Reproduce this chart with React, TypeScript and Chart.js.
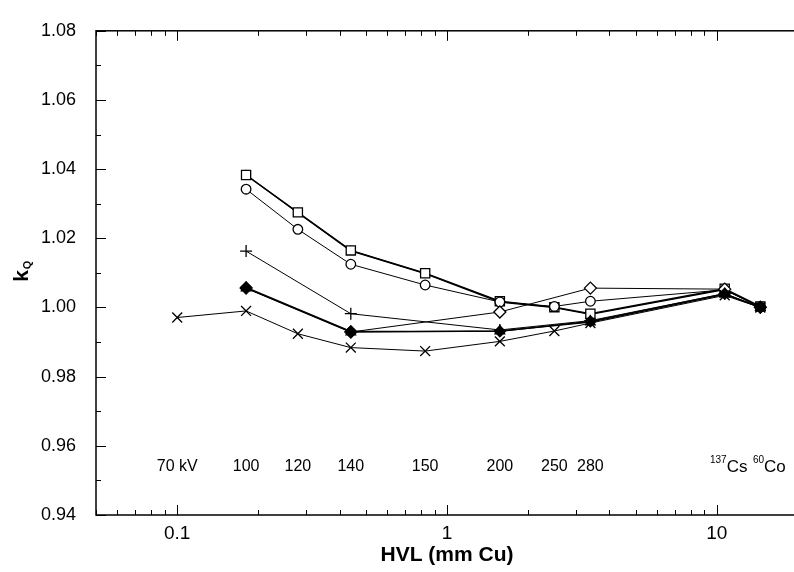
import React, { useEffect, useRef } from "react";
import { Chart, registerables } from "chart.js";
Chart.register(...registerables);

// HVL (mm Cu) of each beam quality
const hvl = [0.1, 0.18, 0.28, 0.44, 0.83, 1.57, 2.5, 3.4, 10.7, 14.5];
const beamLabels = ["70 kV", "100", "120", "140", "150", "200", "250", "280"];
const isotopeMass = ["137", "60"];
const isotopeName = ["Cs", "Co"];

// kQ values per chamber (null = not measured)
const squares = [null, 1.0383, 1.0275, 1.0165, 1.0099, 1.0018, 1.0001, 0.9982, 1.0054, 1.0003];
const triangles = [null, 1.0383, 1.0274, 1.0164, 1.0098, 1.0016, 1.0, 0.998, 1.0052, 1.0001];
const circles = [null, 1.0342, 1.0226, 1.0125, 1.0065, 1.0016, 1.0003, 1.0018, 1.0051, 1.0002];
const pluses = [null, 1.0163, null, 0.9982, null, 0.9935, null, 0.9962, 1.004, 1.0001];
const openDiamonds = [null, 1.0056, null, 0.9929, null, 0.9987, null, 1.0056, 1.0053, 1.0001];
const filledTriangles = [null, 1.0056, null, 0.9929, null, 0.9932, null, 0.9958, 1.0038, 1.0];
const filledDiamonds = [null, 1.0058, null, 0.9931, null, 0.9931, null, 0.996, 1.004, 1.0];
const crosses = [0.9971, 0.999, 0.9924, 0.9884, 0.9874, 0.9902, 0.9932, 0.9955, 1.0035, 1.0];

const xMajor = [0.1, 1, 10];
const yTicks = [0.94, 0.96, 0.98, 1.0, 1.02, 1.04, 1.06, 1.08];

const FONT = "'Liberation Sans', Arial, Helvetica, sans-serif";

export default function App() {
  const ref = useRef<HTMLCanvasElement>(null);
  useEffect(() => {
    if (!ref.current) return;
    const mk = (vals: (number | null)[], style: any, radius: number, filled: boolean, width = 1) => ({
      data: hvl
        .map((x, i) => (vals[i] == null ? null : { x, y: vals[i] as number }))
        .filter((p) => p !== null),
      showLine: true,
      borderColor: "#000",
      borderWidth: width,
      pointStyle: style,
      pointRadius: radius,
      pointBackgroundColor: filled ? "#000" : "#fff",
      pointBorderColor: "#000",
      pointBorderWidth: 1.3,
    });

    const decor = {
      id: "decor",
      afterDraw(chart: any) {
        const { ctx, chartArea: a, scales } = chart;
        const xs = scales.x;
        const ys = scales.y;
        ctx.save();
        ctx.strokeStyle = "#000";
        ctx.lineWidth = 1.5;
        ctx.strokeRect(a.left, a.top, a.right - a.left, a.bottom - a.top);
        ctx.lineWidth = 1;
        // x ticks (inside, bottom and top)
        const xMinor: number[] = [];
        for (let d = -2; d <= 1; d++) {
          for (let m = 1; m <= 9; m++) {
            const v = m * Math.pow(10, d);
            if (v >= 0.05 && v <= 20) xMinor.push(v);
          }
        }
        ctx.beginPath();
        xMinor.forEach((v) => {
          const px = Math.round(xs.getPixelForValue(v)) + 0.5;
          const len = xMajor.some((m) => Math.abs(m - v) < 1e-9) ? 10 : 5;
          ctx.moveTo(px, a.bottom);
          ctx.lineTo(px, a.bottom - len);
          ctx.moveTo(px, a.top);
          ctx.lineTo(px, a.top + len);
        });
        // y ticks (inside, left)
        for (let k = 0; k <= 14; k++) {
          const v = 0.94 + k * 0.01;
          const py = Math.round(ys.getPixelForValue(v)) + 0.5;
          const len = k % 2 === 0 ? 10 : 5;
          ctx.moveTo(a.left, py);
          ctx.lineTo(a.left + len, py);
        }
        ctx.stroke();

        // beam quality labels
        ctx.fillStyle = "#000";
        ctx.textBaseline = "middle";
        ctx.textAlign = "center";
        const ly = ys.getPixelForValue(0.954);
        ctx.font = `16px ${FONT}`;
        beamLabels.forEach((t, i) => {
          ctx.fillText(t, xs.getPixelForValue(hvl[i]), ly);
        });
        isotopeName.forEach((nm, j) => {
          const cx = xs.getPixelForValue(hvl[8 + j]);
          ctx.font = `17px ${FONT}`;
          const wn = ctx.measureText(nm).width;
          ctx.font = `10px ${FONT}`;
          const wm = ctx.measureText(isotopeMass[j]).width;
          const x0 = cx - (wn + wm) / 2 + 4 + j * 5;
          ctx.textAlign = "left";
          ctx.fillText(isotopeMass[j], x0, ly - 6);
          ctx.font = `17px ${FONT}`;
          ctx.fillText(nm, x0 + wm, ly + 1);
          ctx.textAlign = "center";
        });

        // x title
        ctx.font = `bold 21px ${FONT}`;
        ctx.fillText("HVL (mm Cu)", (a.left + a.right - 12) / 2 + 6, 555);

        // y title k_Q
        ctx.translate(22, 272);
        ctx.rotate(-Math.PI / 2);
        ctx.textAlign = "left";
        ctx.font = `bold 21px ${FONT}`;
        const wk = ctx.measureText("k").width;
        ctx.fillText("k", -wk / 2 - 4, 0);
        ctx.font = `bold 11px ${FONT}`;
        ctx.fillText("Q", wk / 2 - 3, 6);
        ctx.restore();
      },
    };

    const chart = new Chart(ref.current, {
      type: "scatter",
      data: {
        datasets: [
          mk(crosses, "crossRot", 7, false),
          mk(pluses, "cross", 6, false),
          mk(filledDiamonds, "rectRot", 5.5, true, 1.3),
          mk(filledTriangles, "triangle", 5.5, true, 1.3),
          mk(openDiamonds, "rectRot", 6, false),
          mk(circles, "circle", 4.8, false),
          mk(squares, "rect", 6.5, false, 1.4),
          mk(triangles, "triangle", 4.5, false, 1.4),
        ] as any,
      },
      plugins: [decor],
      options: {
        animation: false,
        responsive: true,
        maintainAspectRatio: false,
        layout: { padding: { top: 18, right: 12, left: 0, bottom: 0 } },
        plugins: { legend: { display: false }, tooltip: { enabled: false } },
        scales: {
          x: {
            type: "logarithmic",
            min: 0.05,
            max: 20,
            grid: { display: false, drawTicks: false },
            border: { display: false },
            afterBuildTicks: (s: any) => {
              s.ticks = xMajor.map((v) => ({ value: v }));
            },
            afterFit: (s: any) => {
              s.height = 57;
            },
            ticks: {
              autoSkip: false,
              maxRotation: 0,
              padding: 7,
              color: "#000",
              font: { size: 19, family: FONT },
              callback: (v: any) => String(v),
            },
          },
          y: {
            type: "linear",
            min: 0.94,
            max: 1.08,
            grid: { display: false, drawTicks: false },
            border: { display: false },
            afterBuildTicks: (s: any) => {
              s.ticks = yTicks.map((v) => ({ value: v }));
            },
            afterFit: (s: any) => {
              s.width = 96;
            },
            ticks: {
              padding: 20,
              color: "#000",
              font: { size: 18, family: FONT },
              callback: (v: any) => Number(v).toFixed(2),
            },
          },
        },
      },
    });
    return () => chart.destroy();
  }, []);

  return (
    <div style={{ position: "fixed", left: 0, top: 0, width: 794, height: 572, overflow: "hidden", background: "#fff" }}>
      <div style={{ position: "absolute", left: 0, top: 0, width: 810, height: 572 }}>
        <canvas ref={ref} />
      </div>
    </div>
  );
}
